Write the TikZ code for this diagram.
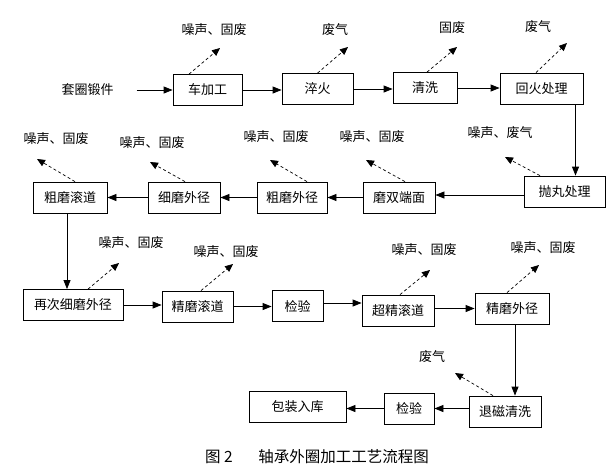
\documentclass[tikz,border=0pt]{standalone}
\usepackage{fontspec}
\setmainfont{Noto Sans CJK SC}
\usetikzlibrary{arrows.meta}
\newcommand{\lblfont}{\fontsize{13}{15}\selectfont}
\newcommand{\capfont}{\fontsize{15.5}{18}\selectfont}
\tikzset{
  stepbox/.style={draw, line width=0.8pt, inner sep=0pt, font=\lblfont, minimum height=31pt},
  note/.style={inner sep=0pt, font=\lblfont},
  arr/.style={line width=0.8pt, -{Triangle[width=7pt,length=9pt]}},
  darr/.style={line width=0.7pt, dash pattern=on 3pt off 2.5pt, -{Triangle[width=7pt,length=8pt]}},
}
\begin{document}
\begin{tikzpicture}[x=1pt,y=-1pt]
\useasboundingbox (0,0) rectangle (613,475);
% row 1
\node[note] (src) at (87.5,90) {套圈锻件};
\node[stepbox, minimum width=69pt] (che) at (207.5,90) {车加工};
\node[stepbox, minimum width=71pt] (cui) at (317.5,89) {淬火};
\node[stepbox, minimum width=64pt] (qx) at (425,88) {清洗};
\node[stepbox, minimum width=83pt] (hh) at (541.5,88.5) {回火处理};
% row 2
\node[stepbox, minimum width=81pt] (pw) at (564.5,191.5) {抛丸处理};
\node[stepbox, minimum width=72pt] (ms) at (399,197.5) {磨双端面};
\node[stepbox, minimum width=70pt] (cmwj) at (292,197.5) {粗磨外径};
\node[stepbox, minimum width=72pt] (xmwj) at (184,197.5) {细磨外径};
\node[stepbox, minimum width=74pt] (cmgd) at (70,197.5) {粗磨滚道};
% row 3
\node[stepbox, minimum width=100pt] (zc) at (73,305) {再次细磨外径};
\node[stepbox, minimum width=71pt] (jmgd) at (197.5,306.5) {精磨滚道};
\node[stepbox, minimum width=51pt] (jy) at (297.5,306) {检验};
\node[stepbox, minimum width=72pt] (cj) at (398,310.5) {超精滚道};
\node[stepbox, minimum width=74pt] (jmwj) at (512,308.5) {精磨外径};
% row 4
\node[stepbox, minimum width=72pt] (tc) at (505,411.5) {退磁清洗};
\node[stepbox, minimum width=50pt] (jy2) at (409,408.5) {检验};
\node[stepbox, minimum width=97pt] (bz) at (297.5,407) {包装入库};
% emission labels
\node[note] (l1) at (214,30) {噪声、固废};
\node[note] (l2) at (335,30) {废气};
\node[note] (l3) at (452,28) {固废};
\node[note] (l4) at (538,27) {废气};
\node[note] (l5) at (500,133) {噪声、废气};
\node[note] (l6) at (372,137) {噪声、固废};
\node[note] (l7) at (276,137) {噪声、固废};
\node[note] (l8) at (152,143) {噪声、固废};
\node[note] (l9) at (56,139) {噪声、固废};
\node[note] (l10) at (131,243) {噪声、固废};
\node[note] (l11) at (226,252) {噪声、固废};
\node[note] (l12) at (424,250) {噪声、固废};
\node[note] (l13) at (543,248) {噪声、固废};
\node[note] (l14) at (432,357) {废气};
% dashed tips
\coordinate (t1) at (220,48);
\coordinate (t2) at (348,47);
\coordinate (t3) at (457,47);
\coordinate (t4) at (567,43);
\coordinate (t5) at (505,157);
\coordinate (t6) at (366,160);
\coordinate (t7) at (270,160);
\coordinate (t8) at (150,162);
\coordinate (t9) at (37,159);
\coordinate (t10) at (119,263);
\coordinate (t11) at (233,264);
\coordinate (t12) at (430,270);
\coordinate (t13) at (539,265);
\coordinate (t14) at (455,373);
% caption
\node[inner sep=0pt, font=\capfont] (fig) at (219,457) {图 2};
\node[inner sep=0pt, font=\capfont] (cap) at (343.5,457) {轴承外圈加工工艺流程图};
% main flow
\draw[arr, shorten <=23pt] (src.east) -- (che.west);
\draw[arr] (che.east) -- (che.east -| cui.west);
\draw[arr] (cui.east) -- (cui.east -| qx.west);
\draw[arr] (qx.east) -- (qx.east -| hh.west);
\draw[arr] ([xshift=34pt]hh.south) -- ([xshift=34pt]hh.south |- pw.north);
\draw[arr] (pw.west |- 0,195) -- (ms.east |- 0,195);
\draw[arr] (ms.west) -- (ms.west -| cmwj.east);
\draw[arr] (cmwj.west) -- (cmwj.west -| xmwj.east);
\draw[arr] (xmwj.west) -- (xmwj.west -| cmgd.east);
\draw[arr] ([xshift=-3pt]cmgd.south) -- ([xshift=-3pt]cmgd.south |- zc.north);
\draw[arr] (zc.east) -- (zc.east -| jmgd.west);
\draw[arr] (jmgd.east) -- (jmgd.east -| jy.west);
\draw[arr] ([yshift=3pt]jy.east) -- ([yshift=3pt]jy.east -| cj.west);
\draw[arr] ([yshift=2pt]cj.east) -- ([yshift=2pt]cj.east -| jmwj.west);
\draw[arr] ([xshift=3pt]jmwj.south) -- ([xshift=3pt]jmwj.south |- tc.north);
\draw[arr] (tc.west |- jy2.east) -- (jy2.east);
\draw[arr] (jy2.west) -- (jy2.west -| bz.east);
% emission arrows
\draw[darr] ([xshift=-18.5pt]che.north) -- (t1);
\draw[darr] (cui.north) -- (t2);
\draw[darr] ([xshift=2pt]qx.north) -- (t3);
\draw[darr] ([xshift=-5.5pt]hh.north) -- (t4);
\draw[darr] ([xshift=-24.5pt]pw.north) -- (t5);
\draw[darr] ([xshift=6pt]ms.north) -- (t6);
\draw[darr] ([xshift=15pt]cmwj.north) -- (t7);
\draw[darr] ([xshift=1pt]xmwj.north) -- (t8);
\draw[darr] ([xshift=5pt]cmgd.north) -- (t9);
\draw[darr] ([xshift=15pt]zc.north) -- (t10);
\draw[darr] ([xshift=3.5pt]jmgd.north) -- (t11);
\draw[darr] ([xshift=2pt]cj.north) -- (t12);
\draw[darr] ([xshift=-5pt]jmwj.north) -- (t13);
\draw[darr] ([xshift=-12pt]tc.north) -- (t14);
\end{tikzpicture}
\end{document}
